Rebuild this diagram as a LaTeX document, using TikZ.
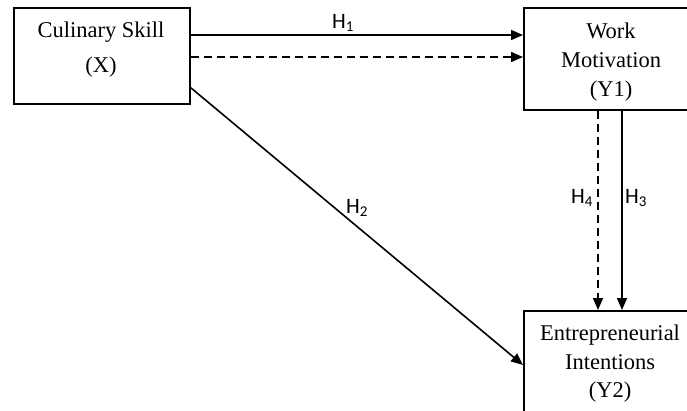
\documentclass[tikz,border=0pt]{standalone}
\usepackage{fontspec}
\setmainfont{Liberation Serif}
\newfontfamily\lblfont{Carlito}
\usetikzlibrary{arrows.meta}
\tikzset{
  box/.style={draw, line width=1.6pt, rectangle, inner sep=0pt},
  boxtxt/.style={anchor=base, inner sep=0pt, font=\fontsize{22.5}{27}\selectfont},
  hlbl/.style={anchor=base west, inner sep=0pt, font=\lblfont\fontsize{22}{26}\selectfont},
  conn/.style={line width=1.6pt, -{Triangle[length=12pt,width=10pt]}},
  dconn/.style={conn, dash pattern=on 8pt off 5pt}
}
\newcommand{\hsub}[1]{H\raisebox{-0.35ex}{\fontsize{15}{15}\selectfont #1}}
\begin{document}
\begin{tikzpicture}[x=1pt,y=-1pt]
\useasboundingbox (0,0) rectangle (687,410);
\fill[white] (0,0) rectangle (687,410);
\begin{scope}
\clip (0,0) rectangle (687,410);
\node[box, minimum width=176pt, minimum height=96pt, anchor=north west] (X) at (13,7) {};
\node[box, minimum width=180pt, minimum height=102pt, anchor=north west] (Y1) at (523,7) {};
\node[box, minimum width=180pt, minimum height=120pt, anchor=north west] (Y2) at (523,310) {};
\end{scope}
\node[boxtxt] (xt1) at (101,37.5) {Culinary Skill};
\node[boxtxt] (xt2) at (101,72.5) {(X)};
\node[boxtxt] (y1t1) at (611,38) {Work};
\node[boxtxt] (y1t2) at (611,67) {Motivation};
\node[boxtxt] (y1t3) at (611,96) {(Y1)};
\node[boxtxt] (y2t1) at (610,340) {Entrepreneurial};
\node[boxtxt] (y2t2) at (610,369.5) {Intentions};
\node[boxtxt] (y2t3) at (610,397.5) {(Y2)};
\draw[conn] ([yshift=-28pt]X.north east) -- ([yshift=-28pt]Y1.north west);
\draw[dconn] ([yshift=-50pt]X.north east) -- ([yshift=-50pt]Y1.north west);
\draw[conn] ([yshift=17pt]X.south east) -- ([yshift=-55pt]Y2.north west);
\draw[dconn] ([xshift=75pt]Y1.south west) -- ([xshift=75pt]Y2.north west);
\draw[conn] ([xshift=99pt]Y1.south west) -- ([xshift=99pt]Y2.north west);
\node[hlbl] (h1) at (332,28) {\hsub{1}};
\node[hlbl] (h2) at (346,213) {\hsub{2}};
\node[hlbl] (h4) at (571,203) {\hsub{4}};
\node[hlbl] (h3) at (625,203) {\hsub{3}};
\end{tikzpicture}
\end{document}
